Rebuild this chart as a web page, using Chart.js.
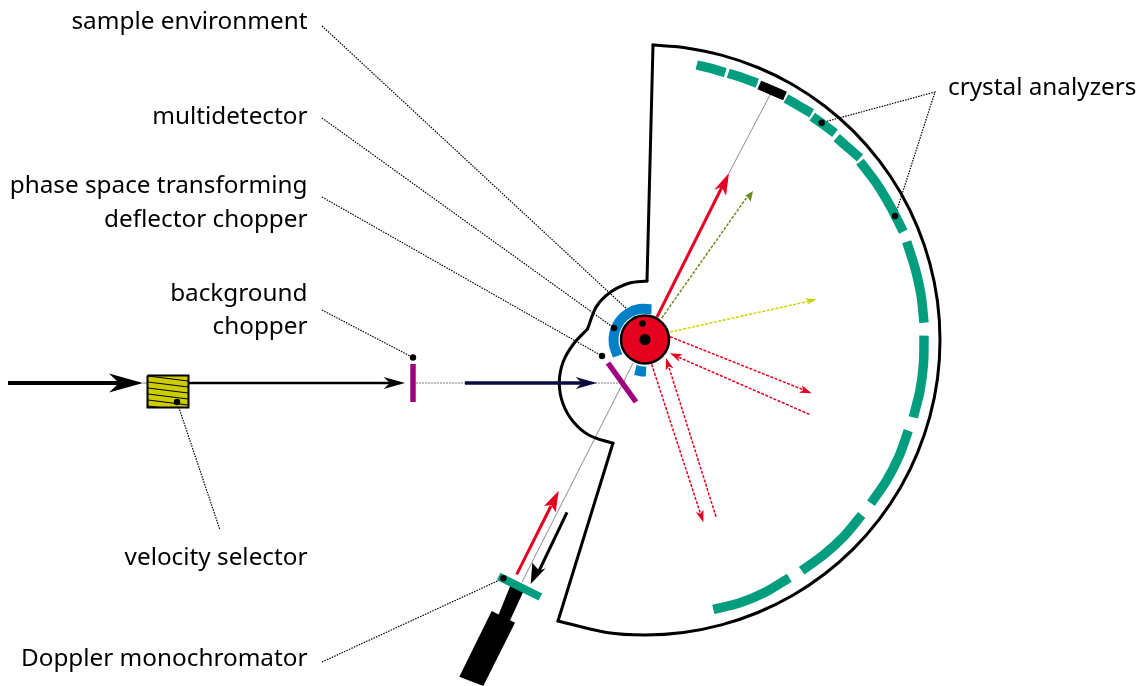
<!DOCTYPE html>
<html>
<head>
<meta charset="utf-8">
<title>Backscattering spectrometer layout</title>
<style>
  html, body { margin: 0; padding: 0; background: #fff; }
  #wrap { width: 1137px; height: 686px; }
</style>
<script src="https://cdn.jsdelivr.net/npm/chart.js@4/dist/chart.umd.min.js"></script>
</head>
<body>
<div id="wrap"><canvas id="layout" width="1137" height="686"></canvas></div>
<script>
'use strict';

const COLORS = {
  black: '#000000',
  green: '#009e7f',
  red: '#e6001f',
  blue: '#0080c8',
  purple: '#a0007f',
  navy: '#0a0a3c',
  olive: '#6f8c1f',
  lime: '#c8d400',
  selector: '#cccc00',
  grey: '#8c8c8c',
  lightGrey: '#bdbdbd',
};

// ── Labels ────────────────────────────────────
const leftLabels = [
  'sample environment', 'multidetector', 'phase space transforming', 'deflector chopper',
  'background', 'chopper', 'velocity selector', 'Doppler monochromator',
];
const leftLabelBaselines = [29, 124, 193, 226.5, 301, 334, 565, 666];
const rightLabels = ['crystal analyzers'];
const rightLabelBaselines = [95];

// ── Housing outline ───────────────────────────
const outerWall = [
  [558, 621], [606.5, 632.5], [645, 635], [683.5, 632.5], [721.4, 624.9], [757.9, 612.5], [792.5, 595.5],
  [824.6, 574], [853.6, 548.6], [879, 519.6], [900.5, 487.5], [917.5, 452.9], [929.9, 416.4], [937.5, 378.5],
  [940, 340], [937.5, 301.5], [929.9, 263.6], [917.5, 227.1], [900.5, 192.5], [879, 160.4], [853.6, 131.4],
  [824.6, 106], [792.5, 84.5], [757.9, 67.5], [721.4, 55.1], [683.5, 47.5], [653, 45],
];
const upperWall = [[653, 45], [647, 281]];
const lowerWall = [[613, 443], [558, 621]];
const upperBulge = [[647, 281], [629.7, 283], [611.1, 291.7], [596.7, 306.1], [587.5, 329]];
const lowerBulge = [
  [587.5, 329], [573.5, 344], [563, 362.2], [559.3, 383], [563, 403.8], [573.5, 422], [589.7, 435.5], [613, 443.3],
];

// ── Analyzer segments ─────────────────────────
const analyzerSegments = [
  [[696.7, 65], [711, 68.4], [725.3, 72.7]],
  [[728.3, 73.3], [743, 78], [757.3, 83.3]],
  [[786, 98.3], [799, 106], [811.7, 113.3]],
  [[812.3, 116.7], [824, 125], [835, 133.3]],
  [[836.7, 137.7], [848.5, 148], [860, 158]],
  [[860, 161.7], [876.7, 183.7], [891, 207.5], [903.3, 231.7]],
  [[906.7, 241.7], [915, 268], [921, 295], [924, 322.7]],
  [[924, 335.7], [923.5, 363.4], [920, 390.5], [913.3, 417.3]],
  [[908.3, 430.7], [899, 456.3], [886.5, 480.6], [871, 503.3]],
  [[861.7, 515], [844.3, 536], [824.2, 554.4], [801.7, 570.7]],
  [[789.3, 577.7], [765.7, 592], [740, 602.8], [713.3, 609.3]],
];
const blackAnalyzer = [[759.3, 85], [772, 90.4], [785, 96]];

// ── Multidetector ─────────────────────────────
const detectorLong = [
  [651.5, 309.2], [639.5, 309], [628.3, 313.3], [619.5, 321.5], [614.4, 332.4], [613.8, 344.4], [617.7, 355.8],
];
const detectorShort = [[635.3, 370], [640.6, 371.2], [646.1, 371.5]];

// ── Beamline parts ────────────────────────────
const backgroundChopper = [[413, 364], [413, 402]];
const deflectorChopper = [[608, 363], [636, 402]];
const monochromator = [[498.7, 576.4], [540.4, 597]];
const driveStem = [[511, 584], [525, 588], [507, 627], [496, 621]];
const driveBody = [[491.7, 611], [515, 622.7], [483.3, 686], [459.3, 676.7]];
const selectorBox = [[147.5, 375.5], [188.5, 375.5], [188.5, 407.5], [147.5, 407.5], [147.5, 375.5]];
const selectorStripes = [
  [[148, 376], [188, 381]],
  [[148, 382], [188, 387]],
  [[148, 388], [188, 393]],
  [[148, 394], [188, 399]],
  [[148, 400], [188, 405]],
  [[148, 406], [160, 407.5]],
];

// ── Beams ─────────────────────────────────────
const incomingBeam = [[8, 383], [120, 383]];
const selectedBeam = [[189, 383], [391, 383]];
const chopperGap = [[416, 383], [465, 383]];
const pulsedBeam = [[465, 383], [583, 383]];
const deflectorGap = [[583, 383], [620, 383]];
const selectorGap = [[143, 383], [148, 383]];
const upperPath = [[729, 173], [770, 95]];
const lowerPath = [[633, 363], [522, 582]];
const scatteredRay = [[657, 317], [722, 187]];
const toDoppler = [[567, 512.3], [539, 571]];
const fromDoppler = [[516.7, 574.3], [551, 506]];
const oliveRay = [[661.7, 318], [747, 197]];
const limeRay = [[670, 332], [810, 301]];
const redRays = [
  [[670, 336.7], [804, 390]],
  [[809.3, 414.3], [678, 357]],
  [[716, 516.7], [668.7, 366.6]],
  [[651.7, 364.3], [700.5, 513.8]],
];

// ── Arrowheads (tip, barb, notch, barb) ───────
const blackHeads = [
  [[143, 383], [109, 373.5], [119, 383], [109, 392.5]],
  [[405, 383], [383.5, 377], [390, 383], [383.5, 389]],
  [[530.7, 584], [532.3, 562.7], [539.3, 570.7], [545.7, 568.3]],
];
const navyHeads = [[[597, 383], [575.5, 377], [582, 383], [575.5, 389]]];
const redHeads = [
  [[729, 173], [714, 190], [721.7, 186.7], [726, 195.7]],
  [[558.7, 490.7], [544, 506], [551, 505], [555.7, 512.3]],
  [[811.7, 393.3], [802, 385.3], [803.3, 390], [799, 392.7]],
  [[670, 353.3], [682.6, 354.3], [678, 357], [679.4, 361.7]],
  [[666, 358], [673.4, 368.2], [668.7, 366.6], [665.8, 370.6]],
  [[703.3, 522.3], [703.4, 509.7], [700.5, 513.8], [695.8, 512.1]],
];
const oliveHeads = [[[753, 191], [745, 195.7], [747, 196.5], [750.7, 201.7]]];
const limeHeads = [[[816.7, 299.3], [805, 298.3], [809.5, 301.5], [807, 305]]];

// ── Leader lines and dots ─────────────────────
const leaderLines = [
  [[322, 26], [642.5, 323.5]],
  [[322, 118], [614, 328]],
  [[322, 197], [602, 356]],
  [[322, 310], [413, 357.5]],
  [[177, 402], [220, 530]],
  [[322, 662], [503.3, 578.3]],
  [[821.7, 122.7], [935, 92], [895, 216]],
];
const leaderDots = [
  [642.5, 323.5], [614, 328], [602, 356], [413, 357.5], [177, 402], [503.3, 578.3], [821.7, 122.7], [895, 216],
];
const sampleCentre = [[645, 339.5]];

// ── Dataset helpers ───────────────────────────
function stroke(data, color, width, extra = {}) {
  return {
    data,
    showLine: true,
    borderColor: color,
    borderWidth: width,
    borderCapStyle: 'butt',
    pointRadius: 0,
    tension: 0,
    fill: false,
    ...extra,
  };
}

function curve(data, color, width, extra = {}) {
  return stroke(data, color, width, { tension: 0.33, ...extra });
}

function dashed(data, color) {
  return stroke(data, color, 1.5, { borderDash: [3, 1.5] });
}

function polygon(data, color) {
  return { data, showLine: true, borderWidth: 0, borderColor: color, backgroundColor: color, pointRadius: 0, tension: 0, fill: 'shape' };
}

function dots(data, color, radius, extra = {}) {
  return { data, showLine: false, pointRadius: radius, pointBackgroundColor: color, pointBorderColor: color, pointBorderWidth: 0, ...extra };
}

// Listed back to front, Chart.js paints the first dataset last
const layers = [
  // thin guide beams
  stroke(selectorGap, COLORS.lightGrey, 2),
  stroke(chopperGap, COLORS.lightGrey, 2, { borderDash: [2, 1] }),
  stroke(deflectorGap, COLORS.lightGrey, 2, { borderDash: [2, 1] }),
  stroke(upperPath, COLORS.grey, 1),
  stroke(lowerPath, COLORS.grey, 1),

  // housing
  curve(outerWall, COLORS.black, 3, { borderCapStyle: 'round' }),
  stroke(upperWall, COLORS.black, 3, { borderCapStyle: 'round' }),
  stroke(lowerWall, COLORS.black, 3, { borderCapStyle: 'round' }),
  curve(upperBulge, COLORS.black, 3, { borderCapStyle: 'round' }),
  curve(lowerBulge, COLORS.black, 3, { borderCapStyle: 'round' }),

  // leaders
  ...leaderLines.map(l => stroke(l, COLORS.black, 1.2, { borderDash: [1.5, 1.2] })),

  // analyzers
  ...analyzerSegments.map(s => curve(s, COLORS.green, 9.5)),
  curve(blackAnalyzer, COLORS.black, 9.5),

  // detector
  curve(detectorLong, COLORS.blue, 10),
  curve(detectorShort, COLORS.blue, 10),

  // choppers
  stroke(backgroundChopper, COLORS.purple, 5.5),
  stroke(deflectorChopper, COLORS.purple, 5.5),

  // velocity selector
  { ...polygon(selectorBox, COLORS.selector), borderWidth: 2, borderColor: COLORS.black },
  ...selectorStripes.map(s => stroke(s, COLORS.black, 1)),

  // Doppler drive
  polygon(driveStem, COLORS.black),
  polygon(driveBody, COLORS.black),
  stroke(monochromator, COLORS.green, 8),

  // beams
  stroke(incomingBeam, COLORS.black, 4),
  stroke(selectedBeam, COLORS.black, 2.5),
  stroke(pulsedBeam, COLORS.navy, 3.5),
  stroke(scatteredRay, COLORS.red, 3),
  stroke(fromDoppler, COLORS.red, 3),
  stroke(toDoppler, COLORS.black, 3),
  dashed(oliveRay, COLORS.olive),
  dashed(limeRay, COLORS.lime),
  ...redRays.map(r => dashed(r, COLORS.red)),

  // heads
  ...blackHeads.map(h => polygon(h, COLORS.black)),
  ...navyHeads.map(h => polygon(h, COLORS.navy)),
  ...redHeads.map(h => polygon(h, COLORS.red)),
  ...oliveHeads.map(h => polygon(h, COLORS.olive)),
  ...limeHeads.map(h => polygon(h, COLORS.lime)),

  // sample
  dots(sampleCentre, COLORS.red, 24, { pointBorderColor: COLORS.black, pointBorderWidth: 2.5 }),
  dots(sampleCentre, COLORS.black, 5.5),
  dots(leaderDots, COLORS.black, 3.2),
];

// Real text labels placed through the chart's scales
const textLabels = {
  id: 'textLabels',
  afterDatasetsDraw(chart) {
    const { ctx, scales: { x, y } } = chart;
    ctx.save();
    ctx.fillStyle = '#000';
    ctx.font = "24.3px 'Noto Sans', sans-serif";
    ctx.textBaseline = 'alphabetic';
    ctx.textAlign = 'right';
    leftLabels.forEach((t, i) => ctx.fillText(t, x.getPixelForValue(307.5), y.getPixelForValue(leftLabelBaselines[i])));
    ctx.textAlign = 'left';
    rightLabels.forEach((t, i) => ctx.fillText(t, x.getPixelForValue(948), y.getPixelForValue(rightLabelBaselines[i])));
    ctx.restore();
  },
};

new Chart(document.getElementById('layout'), {
  type: 'scatter',
  data: { datasets: layers.reverse() },
  options: {
    responsive: false,
    animation: false,
    events: [],
    layout: { padding: 0, autoPadding: false },
    plugins: { legend: { display: false }, tooltip: { enabled: false } },
    scales: {
      x: { type: 'linear', display: false, min: 0, max: 1137 },
      y: { type: 'linear', display: false, min: 0, max: 686, reverse: true },
    },
  },
  plugins: [textLabels],
});
</script>
</body>
</html>
